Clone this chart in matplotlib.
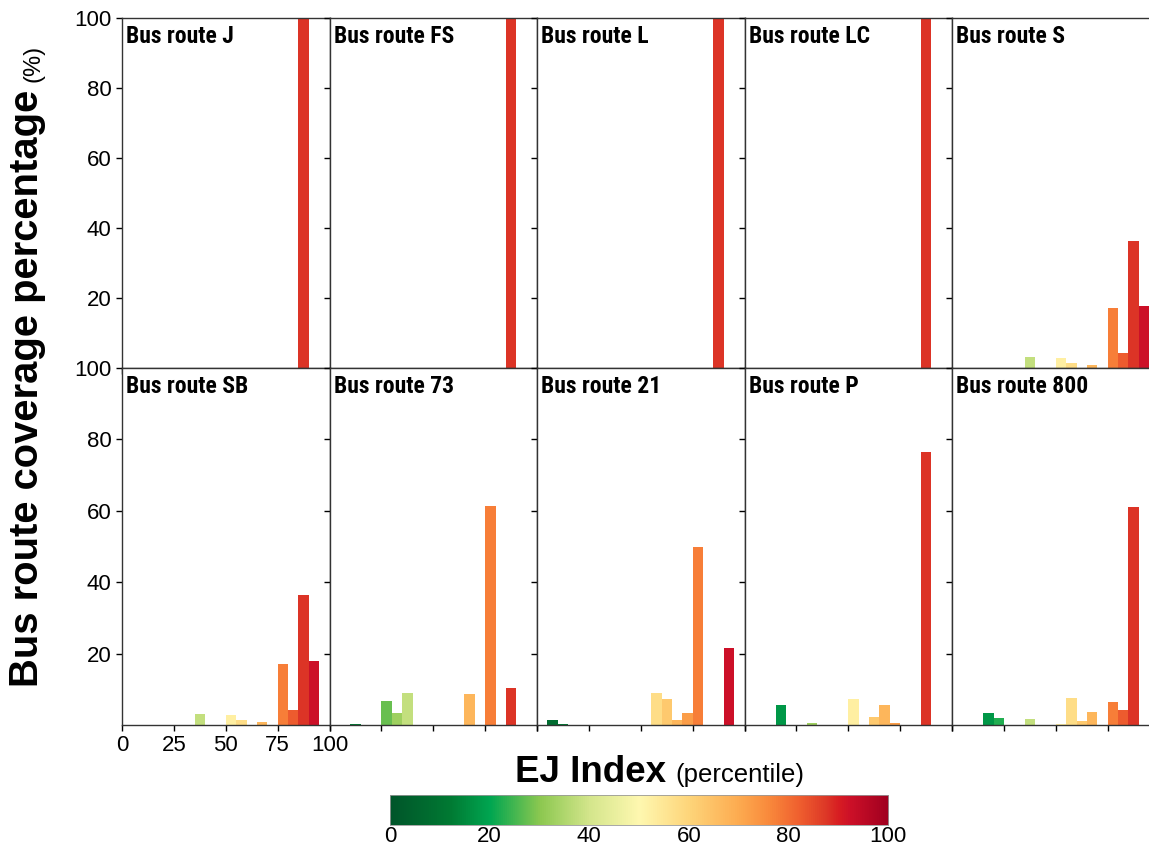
import matplotlib
matplotlib.use("Agg")
import matplotlib.pyplot as plt
import numpy as np
from matplotlib.colors import LinearSegmentedColormap
from matplotlib import font_manager as fm

# ---------------- data ----------------
bin_edges = list(range(0, 100, 5))  # left edges of 5-percentile bins
routes = ["Bus route J", "Bus route FS", "Bus route L", "Bus route LC", "Bus route S",
          "Bus route SB", "Bus route 73", "Bus route 21", "Bus route P", "Bus route 800"]

route_J  = [0]*17 + [100, 0, 0]
route_FS = [0]*17 + [100, 0, 0]
route_L  = [0]*17 + [100, 0, 0]
route_LC = [0]*17 + [100, 0, 0]
route_S  = [0, 0, 0, 0, 0, 0, 0, 3.2, 0, 0, 2.8, 1.3, 0, 0.8, 0, 17.2, 4.2, 36.3, 17.8, 0]
route_SB = [0, 0, 0, 0, 0, 0, 0, 3.2, 0, 0, 2.8, 1.3, 0, 0.8, 0, 17.2, 4.2, 36.3, 17.8, 0]
route_73 = [0, 0, 0.3, 0, 0, 6.7, 3.4, 9.0, 0, 0, 0, 0, 0, 8.7, 0, 61.3, 0, 10.5, 0, 0]
route_21 = [0, 1.4, 0.2, 0, 0, 0, 0, 0, 0, 0, 0, 9.0, 7.3, 1.4, 3.3, 50.0, 0, 0, 21.6, 0]
route_P  = [0, 0, 0, 5.6, 0, 0, 0.5, 0, 0, 0, 7.2, 0, 2.3, 5.6, 0.7, 0, 0, 76.5, 0, 0]
route_800 = [0, 0, 0, 3.3, 2.0, 0, 0, 1.7, 0, 0, 0.3, 7.5, 1.0, 3.6, 0, 6.4, 4.2, 61.0, 0, 0]
values = [route_J, route_FS, route_L, route_LC, route_S,
          route_SB, route_73, route_21, route_P, route_800]

x_ticks = [0, 25, 50, 75, 100]
y_ticks = [20, 40, 60, 80, 100]
cbar_ticks = [0, 20, 40, 60, 80, 100]

# ---------------- style ----------------
cmap = LinearSegmentedColormap.from_list("ej", [
    (0.00, "#00552a"), (0.12, "#007a33"), (0.20, "#00a651"), (0.30, "#8cc850"),
    (0.40, "#d4e68c"), (0.50, "#fff8b0"), (0.60, "#fed57a"), (0.70, "#fdab50"),
    (0.76, "#f98a3c"), (0.82, "#f0602f"), (0.875, "#dd3827"), (0.90, "#d81e22"),
    (0.925, "#cc1028"), (1.00, "#a00020")])

avail = {f.name for f in fm.fontManager.ttflist}
title_font = next((f for f in ["Liberation Sans Narrow", "DejaVu Sans Condensed", "Roboto Condensed"]
                   if f in avail), "Roboto")
plt.rcParams['font.family'] = ['Liberation Sans', 'DejaVu Sans']

W, H = 1149, 850
fig = plt.figure(figsize=(W/100, H/100), dpi=100)

col_left = [122, 329.5, 537, 744.5, 952]
pw = 207.5
rows = [(18, 368), (368, 725)]

for i, (name, vals) in enumerate(zip(routes, values)):
    r, c = divmod(i, 5)
    top, bot = rows[r]
    ax = fig.add_axes([col_left[c]/W, 1 - bot/H, pw/W, (bot-top)/H])
    colors = [cmap((e + 2.5)/100) for e in bin_edges]
    ax.bar(bin_edges, vals, width=5, align='edge', color=colors, linewidth=0)
    ax.set_xlim(0, 100)
    ax.set_ylim(0, 100)
    ax.set_xticks(x_ticks)
    ax.set_yticks(y_ticks)
    ax.tick_params(direction='out', length=4, width=1, labelsize=16, colors='black')
    if c != 0:
        ax.set_yticklabels([])
    if not (r == 1 and c == 0):
        ax.set_xticklabels([])
    for s in ax.spines.values():
        s.set_linewidth(1.0)
        s.set_color('#333333')
    ax.text(0.02, 0.98, name, transform=ax.transAxes, ha='left', va='top',
            fontsize=17, fontweight='bold', family=title_font)

# y label
fig.text(38/W, 1 - 90/H, "Bus route coverage percentage", rotation=90, rotation_mode='anchor',
         ha='right', va='baseline', fontsize=28.8, fontweight='bold')
fig.text(39/W, 1 - 82/H, "(%)", rotation=90, rotation_mode='anchor',
         ha='left', va='baseline', fontsize=17)

# x label
fig.text(515/W, 1 - 782/H, "EJ Index", ha='left', va='baseline', fontsize=26.5, fontweight='bold')
fig.text(675/W, 1 - 782/H, "(percentile)", ha='left', va='baseline', fontsize=18.5)

# colorbar
cax = fig.add_axes([390/W, 1 - 825/H, 498/W, 30/H])
grad = np.linspace(0, 100, 512).reshape(1, -1)
cax.imshow(grad, aspect='auto', cmap=cmap, extent=[0, 100, 0, 1])
cax.set_yticks([])
cax.set_xticks(cbar_ticks)
cax.tick_params(length=0, labelsize=16, pad=1)
for s in cax.spines.values():
    s.set_linewidth(0.6)
    s.set_color('#999999')

fig.savefig("out.png", dpi=100)
